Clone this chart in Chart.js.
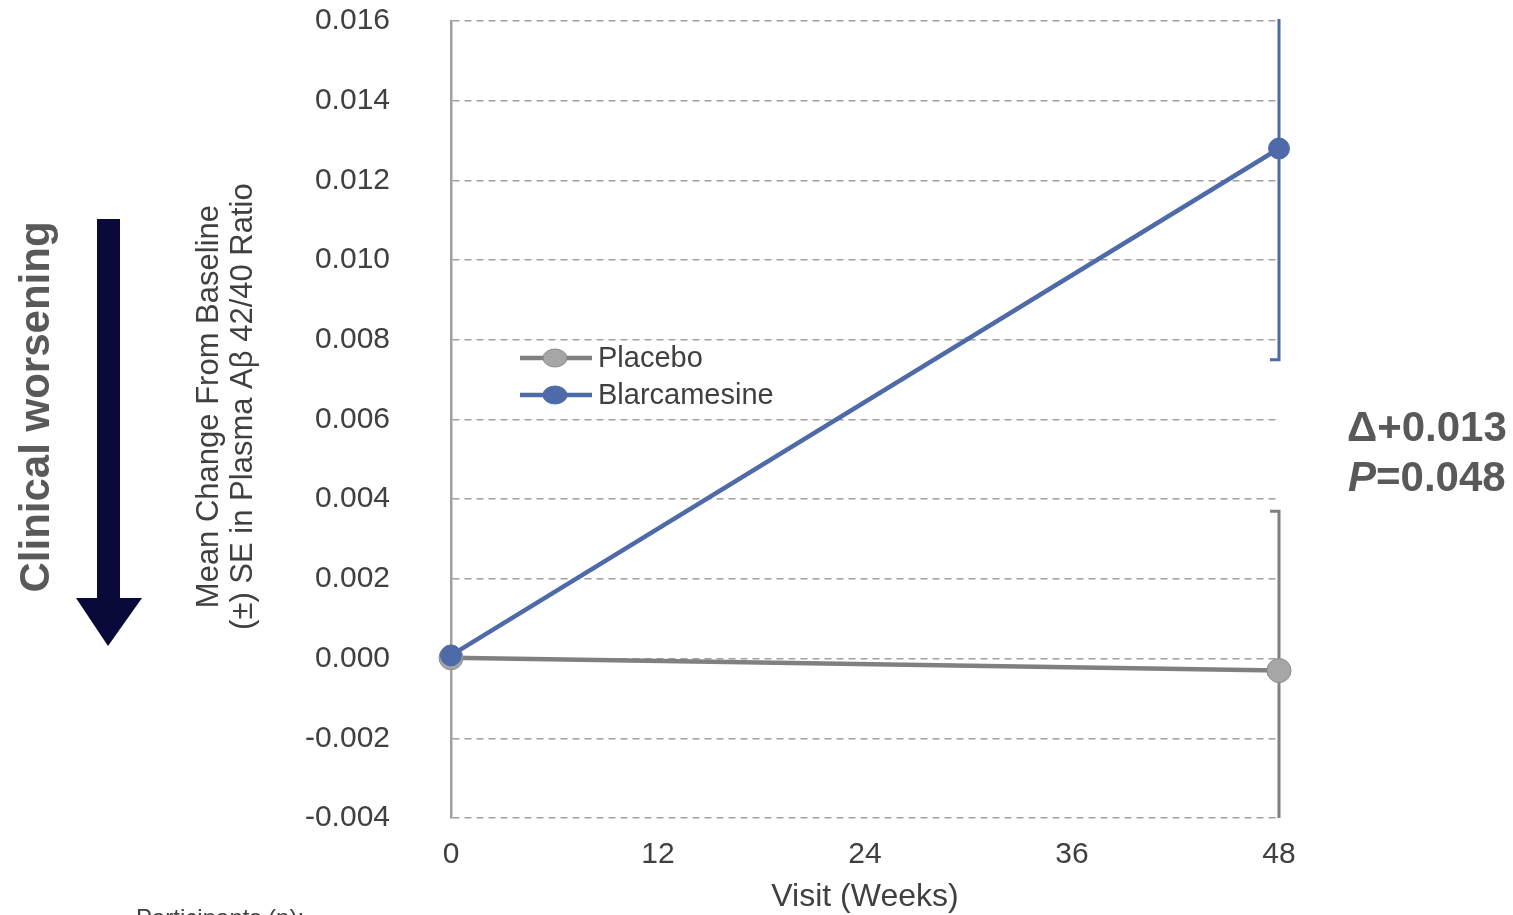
<!DOCTYPE html>
<html lang="en">
<head>
    <meta charset="UTF-8">
    <title>Plasma Ab 42/40 ratio</title>
    <script src="https://cdn.jsdelivr.net/npm/chart.js"></script>
    <style>
        body {
            margin: 0;
            background-color: #ffffff;
        }
        .chart-container {
            position: relative;
            width: 1513px;
            height: 915px;
        }
    </style>
</head>
<body>
    <div class="chart-container">
        <canvas id="ratioChart"></canvas>
    </div>

    <script>
        // data
        const weeks = [0, 48];
        const xTicks = [0, 12, 24, 36, 48];
        const placeboMean = [0.00002, -0.0003];
        const placeboSE = [0, 0.004];
        const blarcMean = [0.00008, 0.0128];
        const blarcSE = [0, 0.0053];
        const seriesNames = ['Placebo', 'Blarcamesine'];

        const grey = '#808080';
        const blue = '#4f6aa8';
        const textColor = '#404040';
        const fontFamily = "'Liberation Sans', Arial, sans-serif";

        Chart.defaults.font.family = fontFamily;
        Chart.defaults.color = textColor;

        const toPoints = (ys) => weeks.map((w, i) => ({ x: w, y: ys[i] }));

        // error bars, clipped to the plot area
        const errorBars = {
            id: 'errorBars',
            beforeDatasetsDraw(chart) {
                const { ctx, chartArea, scales } = chart;
                const sets = [[placeboMean, placeboSE, grey], [blarcMean, blarcSE, blue]];
                ctx.save();
                sets.forEach(([means, ses, color]) => {
                    means.forEach((m, i) => {
                        if (!ses[i]) return;
                        const x = scales.x.getPixelForValue(weeks[i]);
                        const top = scales.y.getPixelForValue(m + ses[i]);
                        const bot = scales.y.getPixelForValue(m - ses[i]);
                        ctx.strokeStyle = color;
                        ctx.lineWidth = 3;
                        ctx.beginPath();
                        ctx.moveTo(x, Math.max(top, chartArea.top - 2));
                        ctx.lineTo(x, Math.min(bot, chartArea.bottom));
                        if (top >= chartArea.top) {
                            ctx.moveTo(x - 9, top);
                            ctx.lineTo(x + 1.5, top);
                        }
                        if (bot <= chartArea.bottom) {
                            ctx.moveTo(x - 9, bot);
                            ctx.lineTo(x + 1.5, bot);
                        }
                        ctx.stroke();
                    });
                });
                ctx.restore();
            }
        };

        // legend, arrow and side texts
        const extras = {
            id: 'extras',
            afterDraw(chart) {
                const { ctx } = chart;
                ctx.save();

                // legend inside the plot
                chart.data.datasets.forEach((ds, i) => {
                    const y = 358 + i * 37;
                    ctx.strokeStyle = ds.borderColor;
                    ctx.lineWidth = 4.5;
                    ctx.beginPath();
                    ctx.moveTo(520, y);
                    ctx.lineTo(592, y);
                    ctx.stroke();
                    ctx.fillStyle = ds.pointBackgroundColor;
                    ctx.strokeStyle = ds.pointBorderColor;
                    ctx.lineWidth = 1;
                    ctx.beginPath();
                    ctx.ellipse(555, y, 12, 9, 0, 0, Math.PI * 2);
                    ctx.fill();
                    ctx.stroke();
                    ctx.fillStyle = textColor;
                    ctx.font = '29px ' + fontFamily;
                    ctx.textBaseline = 'middle';
                    ctx.textAlign = 'left';
                    ctx.fillText(ds.label, 598, y + 1);
                });

                // arrow
                ctx.fillStyle = '#0a0a3a';
                ctx.fillRect(97, 219, 23, 382);
                ctx.beginPath();
                ctx.moveTo(76, 598);
                ctx.lineTo(142, 598);
                ctx.lineTo(108, 646);
                ctx.closePath();
                ctx.fill();

                // clinical worsening
                ctx.save();
                ctx.translate(37, 407);
                ctx.rotate(-Math.PI / 2);
                ctx.fillStyle = '#595959';
                ctx.font = 'bold 42px ' + fontFamily;
                ctx.textAlign = 'center';
                ctx.textBaseline = 'middle';
                ctx.fillText('Clinical worsening', 0, 0);
                ctx.restore();

                // delta and p value
                ctx.fillStyle = '#595959';
                ctx.textBaseline = 'middle';
                ctx.textAlign = 'left';
                ctx.font = 'bold 42px ' + fontFamily;
                ctx.fillText('\u0394+0.013', 1347, 429);
                ctx.font = 'italic bold 42px ' + fontFamily;
                ctx.fillText('P', 1348, 479);
                const pw = ctx.measureText('P').width;
                ctx.font = 'bold 42px ' + fontFamily;
                ctx.fillText('=0.048', 1348 + pw, 479);

                // participants caption (cut at the bottom edge)
                ctx.fillStyle = textColor;
                ctx.font = '24px ' + fontFamily;
                ctx.fillText('Participants (n):', 136, 919);

                ctx.restore();
            }
        };

        const ctx = document.getElementById('ratioChart').getContext('2d');

        const ratioChart = new Chart(ctx, {
            type: 'line',
            data: {
                datasets: [{
                    label: seriesNames[0],
                    data: toPoints(placeboMean),
                    borderColor: grey,
                    borderWidth: 4.5,
                    pointBackgroundColor: '#a6a6a6',
                    pointBorderColor: '#8a8a8a',
                    pointBorderWidth: 1,
                    pointRadius: 12,
                    clip: false,
                    order: 2
                }, {
                    label: seriesNames[1],
                    data: toPoints(blarcMean),
                    borderColor: blue,
                    borderWidth: 4.5,
                    pointBackgroundColor: blue,
                    pointBorderColor: blue,
                    pointBorderWidth: 1,
                    pointRadius: 10.5,
                    clip: false,
                    order: 1
                }]
            },
            options: {
                responsive: true,
                maintainAspectRatio: false,
                animation: false,
                layout: {
                    padding: { left: 0, right: 234, top: 21, bottom: 0 }
                },
                plugins: {
                    legend: { display: false },
                    tooltip: { enabled: false }
                },
                scales: {
                    x: {
                        type: 'linear',
                        min: 0,
                        max: 48,
                        afterFit(scale) { scale.height = 97; },
                        afterBuildTicks(scale) {
                            scale.ticks = xTicks.map(v => ({ value: v }));
                        },
                        ticks: {
                            padding: 19,
                            font: { size: 30 },
                            color: textColor
                        },
                        grid: { display: false, drawTicks: false },
                        border: { display: false },
                        title: {
                            display: true,
                            text: 'Visit (Weeks)',
                            font: { size: 32, lineHeight: 1.1 },
                            color: textColor,
                            padding: { top: 0, bottom: 0 }
                        }
                    },
                    y: {
                        min: -0.004,
                        max: 0.016,
                        afterFit(scale) {
                            scale.width = 451;
                            scale.paddingTop = 0;
                            scale.paddingBottom = 0;
                        },
                        ticks: {
                            stepSize: 0.002,
                            padding: 61,
                            font: { size: 30 },
                            color: textColor,
                            callback: (v) => v.toFixed(3)
                        },
                        grid: {
                            color: '#a0a0a0',
                            lineWidth: 1.5,
                            drawTicks: false
                        },
                        border: {
                            display: true,
                            color: '#a0a0a0',
                            width: 2.5,
                            dash: [7, 5]
                        },
                        title: {
                            display: true,
                            text: ['   Mean Change From Baseline', '   (\u00b1) SE in Plasma A\u03b2 42/40 Ratio'],
                            font: { size: 31, lineHeight: 1.1 },
                            color: textColor,
                            padding: { top: 192, bottom: 0 }
                        }
                    }
                }
            },
            plugins: [errorBars, extras]
        });
    </script>
</body>
</html>
